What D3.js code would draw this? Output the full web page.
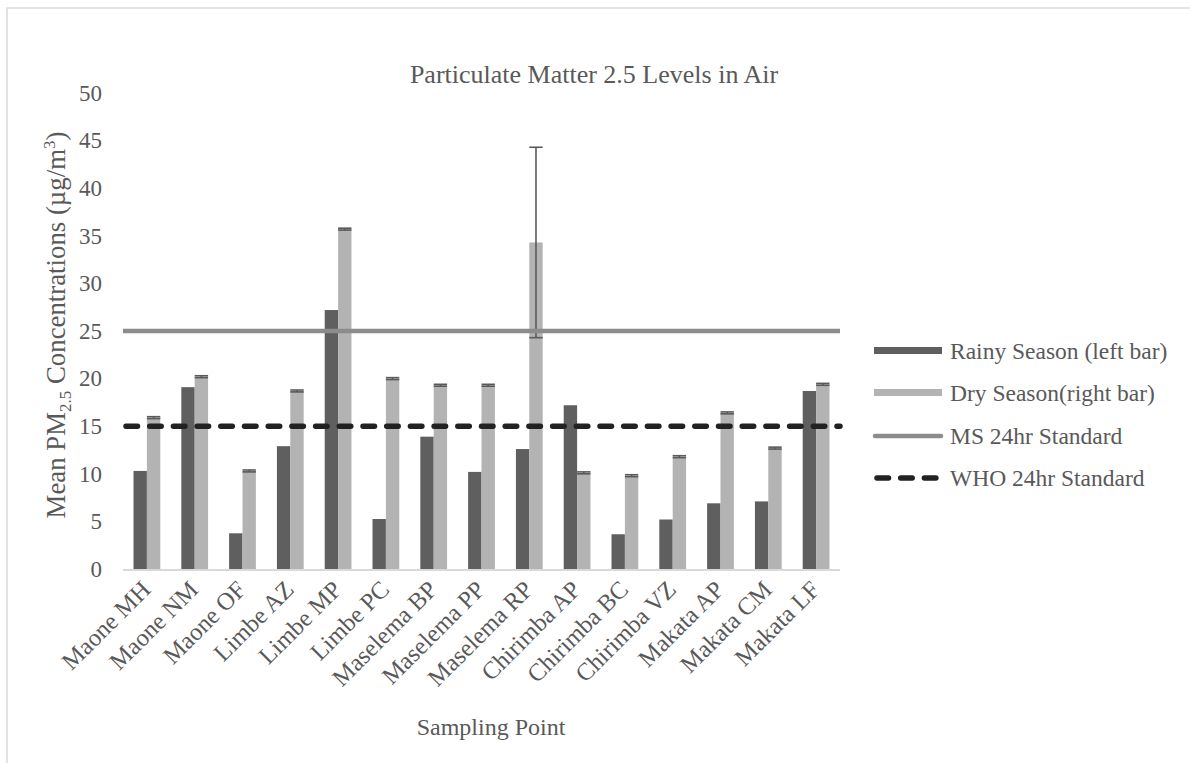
<!DOCTYPE html>
<html>
<head>
<meta charset="utf-8">
<script src="https://cdn.jsdelivr.net/npm/d3@7"></script>
<style>
  body { margin: 0; background: #fff; }
  text { font-family: "Liberation Serif", "Times New Roman", serif; fill: #595959; }
</style>
</head>
<body>
<svg id="chart" width="1190" height="763"></svg>
<script>
// data
var sites = ["Maone MH", "Maone NM", "Maone OF", "Limbe AZ", "Limbe MP", "Limbe PC",
  "Maselema BP", "Maselema PP", "Maselema RP", "Chirimba AP", "Chirimba BC",
  "Chirimba VZ", "Makata AP", "Makata CM", "Makata LF"];
var rainy = [10.3, 19.1, 3.75, 12.9, 27.2, 5.25, 13.9, 10.2, 12.6, 17.2, 3.65, 5.2, 6.9, 7.1, 18.7];
var dry = [15.9, 20.2, 10.3, 18.7, 35.7, 20.0, 19.3, 19.3, 34.3, 10.1, 9.8, 11.8, 16.4, 12.7, 19.4];
var dryErr = [0.1, 0.1, 0.1, 0.1, 0.1, 0.1, 0.1, 0.1, 10.0, 0.1, 0.1, 0.1, 0.1, 0.1, 0.1];
var yTicks = [0, 5, 10, 15, 20, 25, 30, 35, 40, 45, 50];
var msStandard = 25;
var whoStandard = 15;
var legendItems = ["Rainy Season (left bar)", "Dry Season(right bar)", "MS 24hr Standard", "WHO 24hr Standard"];

var svg = d3.select("svg#chart");

// outer frame of the chart area
svg.append("rect")
  .attr("x", 7).attr("y", 8)
  .attr("width", 1200).attr("height", 800)
  .attr("fill", "none")
  .attr("stroke", "#d9d9d9")
  .attr("stroke-width", 1.5);

var plotLeft = 123, plotRight = 840, plotTop = 93, plotBottom = 569;

var x = d3.scaleBand()
  .domain(sites)
  .range([plotLeft, plotRight])
  .paddingInner(0.44)
  .paddingOuter(0.22);

var xSub = d3.scaleBand()
  .domain(["rainy", "dry"])
  .range([0, x.bandwidth()]);

var y = d3.scaleLinear()
  .domain([0, 50])
  .range([plotBottom, plotTop]);

// title
svg.append("text")
  .attr("x", 594).attr("y", 83)
  .attr("text-anchor", "middle")
  .style("font-size", "26px")
  .text("Particulate Matter 2.5 Levels in Air");

// y axis labels
var yAxis = d3.axisLeft(y).tickValues(yTicks).tickSize(0).tickPadding(0);
var yg = svg.append("g")
  .attr("transform", "translate(102,0)")
  .call(yAxis);
yg.select(".domain").remove();
yg.selectAll("text")
  .style("font-size", "23px")
  .style("font-family", "Liberation Serif, serif")
  .attr("fill", "#595959");

// y axis title
var yTitle = svg.append("text")
  .attr("transform", "translate(65,325) rotate(-90)")
  .attr("text-anchor", "middle")
  .style("font-size", "26.8px");
yTitle.append("tspan").text("Mean PM");
yTitle.append("tspan").attr("dy", 6).style("font-size", "17px").text("2.5");
yTitle.append("tspan").attr("dy", -6).text(" Concentrations (\u00b5g/m");
yTitle.append("tspan").attr("dy", -10).style("font-size", "17px").text("3");
yTitle.append("tspan").attr("dy", 10).text(")");

// x axis baseline
svg.append("line")
  .attr("x1", plotLeft).attr("x2", plotRight)
  .attr("y1", plotBottom + 1).attr("y2", plotBottom + 1)
  .attr("stroke", "#d9d9d9")
  .attr("stroke-width", 2);

// bars
var groups = svg.append("g").selectAll("g.site")
  .data(sites)
  .enter().append("g")
  .attr("class", "site")
  .attr("transform", function(d) { return "translate(" + x(d) + ",0)"; });

groups.append("rect")
  .attr("x", xSub("rainy"))
  .attr("width", xSub.bandwidth())
  .attr("y", function(d, i) { return y(rainy[i]); })
  .attr("height", function(d, i) { return plotBottom - y(rainy[i]); })
  .attr("fill", "#5f5f5f");

groups.append("rect")
  .attr("x", xSub("dry"))
  .attr("width", xSub.bandwidth())
  .attr("y", function(d, i) { return y(dry[i]); })
  .attr("height", function(d, i) { return plotBottom - y(dry[i]); })
  .attr("fill", "#b3b3b3");

// error bars on the dry season
var errG = groups.append("g")
  .attr("stroke", "#5a5a5a")
  .attr("stroke-width", 1.6);
var cx = xSub("dry") + xSub.bandwidth() / 2;
errG.append("line")
  .attr("x1", cx).attr("x2", cx)
  .attr("y1", function(d, i) { return y(dry[i] + dryErr[i]); })
  .attr("y2", function(d, i) { return y(dry[i] - dryErr[i]); });
errG.append("line")
  .attr("x1", xSub("dry")).attr("x2", xSub("dry") + xSub.bandwidth())
  .attr("y1", function(d, i) { return y(dry[i] + dryErr[i]); })
  .attr("y2", function(d, i) { return y(dry[i] + dryErr[i]); });
errG.append("line")
  .attr("x1", xSub("dry")).attr("x2", xSub("dry") + xSub.bandwidth())
  .attr("y1", function(d, i) { return y(dry[i] - dryErr[i]); })
  .attr("y2", function(d, i) { return y(dry[i] - dryErr[i]); });

// standards
svg.append("line")
  .attr("x1", plotLeft).attr("x2", plotRight)
  .attr("y1", y(msStandard)).attr("y2", y(msStandard))
  .attr("stroke", "#8c8c8c")
  .attr("stroke-width", 4.5);

svg.append("line")
  .attr("x1", plotLeft + 3).attr("x2", plotRight)
  .attr("y1", y(whoStandard)).attr("y2", y(whoStandard))
  .attr("stroke", "#222")
  .attr("stroke-width", 5.5)
  .attr("stroke-linecap", "round")
  .attr("stroke-dasharray", "11.5,12.2");

// category labels
svg.append("g").selectAll("text.cat")
  .data(sites)
  .enter().append("text")
  .attr("class", "cat")
  .attr("text-anchor", "end")
  .attr("transform", function(d) {
    return "translate(" + (x(d) + x.bandwidth() / 2 + 5) + "," + (plotBottom + 22) + ") rotate(-45)";
  })
  .style("font-size", "24.5px")
  .text(function(d) { return d; });

// x title
svg.append("text")
  .attr("x", 491).attr("y", 735)
  .attr("text-anchor", "middle")
  .style("font-size", "24px")
  .text("Sampling Point");

// legend
var legend = svg.append("g").attr("transform", "translate(874,0)");
var legY = [351, 393, 436, 478];
legend.append("rect").attr("x", 0).attr("y", legY[0] - 4).attr("width", 68).attr("height", 7).attr("fill", "#5f5f5f");
legend.append("rect").attr("x", 0).attr("y", legY[1] - 4).attr("width", 68).attr("height", 7).attr("fill", "#b3b3b3");
legend.append("line").attr("x1", 1).attr("x2", 67).attr("y1", legY[2]).attr("y2", legY[2])
  .attr("stroke", "#8c8c8c").attr("stroke-width", 4.5).attr("stroke-linecap", "round");
legend.append("line").attr("x1", 3).attr("x2", 67).attr("y1", legY[3]).attr("y2", legY[3])
  .attr("stroke", "#222").attr("stroke-width", 5.5).attr("stroke-linecap", "round")
  .attr("stroke-dasharray", "11.5,12.2");
legend.selectAll("text")
  .data(legendItems)
  .enter().append("text")
  .attr("x", 76)
  .attr("y", function(d, i) { return legY[i]; })
  .attr("dy", "0.35em")
  .style("font-size", "23.5px")
  .text(function(d) { return d; });
</script>
</body>
</html>
